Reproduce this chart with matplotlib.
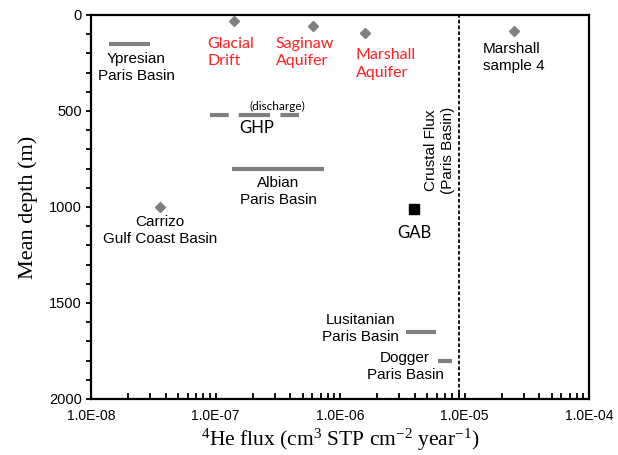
import numpy as np
import matplotlib
matplotlib.use("Agg")
import matplotlib.pyplot as plt

plt.rcParams["mathtext.fontset"] = "custom"
plt.rcParams["mathtext.rm"] = "Liberation Serif"
plt.rcParams["mathtext.it"] = "Liberation Serif:italic"

SANS = "Liberation Sans"
CAL = "Lato"
SERIF = "Liberation Serif"
GREY = "#808080"
RED = "#ff2020"

# Single-site helium flux estimates (diamonds)
point_names = ["Glacial Drift", "Saginaw Aquifer", "Marshall Aquifer",
               "Marshall sample 4", "Carrizo"]
point_flux = [1.42e-7, 6.1e-7, 1.6e-6, 2.5e-5, 3.55e-8]
point_depth = [30, 55, 95, 85, 1000]

# Flux ranges for aquifers (horizontal bars)
range_names = ["Ypresian", "Albian", "Lusitanian", "Dogger"]
range_lo = [1.4e-8, 1.36e-7, 3.4e-6, 6.1e-6]
range_hi = [3.0e-8, 7.4e-7, 5.9e-6, 8.0e-6]
range_depth = [150, 800, 1650, 1800]

# Great Hungarian Plain discharge range (dashed bar)
ghp_lo, ghp_hi, ghp_depth = 9.1e-8, 4.7e-7, 520

# Great Artesian Basin
gab_flux, gab_depth = 3.95e-6, 1010

# Crustal flux of the Paris Basin
crustal_flux = 9.0e-6

x_ticks = [1e-8, 1e-7, 1e-6, 1e-5, 1e-4]
x_tick_labels = ["1.0E-08", "1.0E-07", "1.0E-06", "1.0E-05", "1.0E-04"]
y_ticks = [0, 500, 1000, 1500, 2000]

fig = plt.figure(figsize=(6.18, 4.55), dpi=100)
ax = fig.add_axes([91 / 618, 1 - 399 / 455, 498 / 618, 384 / 455])

ax.set_xscale("log")
ax.set_xlim(1e-8, 1e-4)
ax.set_ylim(2000, 0)

# bars
for lo, hi, d in zip(range_lo, range_hi, range_depth):
    ax.plot([lo, hi], [d, d], color=GREY, lw=3.0, solid_capstyle="butt")
ax.plot([ghp_lo, ghp_hi], [ghp_depth, ghp_depth], color=GREY, lw=3.0,
        dash_capstyle="butt", linestyle=(0, (4.5, 2.4, 7.5, 2.5, 4.5, 10)))

# points
ax.plot(point_flux, point_depth, linestyle="none", marker="D",
        markersize=5.5, color=GREY)
ax.plot([gab_flux], [gab_depth], linestyle="none", marker="s",
        markersize=7, color="black")

ax.axvline(crustal_flux, color="black", lw=1.3, linestyle=(0, (2, 1.2)))

# labels
def label(x, y, s, color="black", family=SANS, size=11, ha="center", **kw):
    ax.text(x, y, s, color=color, family=family, fontsize=size, ha=ha,
            va="center", linespacing=1.28, **kw)

label(2.30e-8, 273, "Ypresian\nParis Basin")
label(8.55e-8, 193, "Glacial\nDrift", color=RED, family=CAL, size=11.5, ha="left")
label(3.06e-7, 193, "Saginaw\nAquifer", color=RED, family=CAL, size=11.5, ha="left")
label(1.34e-6, 255, "Marshall\nAquifer", color=RED, family=CAL, size=11.5, ha="left")
label(1.41e-5, 221, "Marshall\nsample 4", ha="left")
label(1.89e-7, 474, "(discharge)", family=CAL, size=8.5, ha="left")
label(1.54e-7, 589, "GHP", family=CAL, size=12, ha="left")
label(3.18e-7, 919, "Albian\nParis Basin")
label(3.58e-8, 1122, "Carrizo\nGulf Coast Basin")
label(6.3e-6, 703, "Crustal Flux\n(Paris Basin)", rotation=90)
label(gab_flux, 1135, "GAB", family=CAL, size=12)
label(1.45e-6, 1633, "Lusitanian\nParis Basin")
label(3.33e-6, 1831, "Dogger\nParis Basin")

# axes styling
for sp in ax.spines.values():
    sp.set_linewidth(1.6)

ax.set_xticks(x_ticks)
ax.set_xticklabels(x_tick_labels, family=SANS, fontsize=10)
ax.xaxis.set_minor_locator(matplotlib.ticker.LogLocator(base=10, subs=np.arange(2, 10)))
ax.xaxis.set_minor_formatter(matplotlib.ticker.NullFormatter())
ax.set_yticks(y_ticks)
ax.set_yticklabels([str(v) for v in y_ticks], family=SANS, fontsize=10.5)
ax.yaxis.set_minor_locator(matplotlib.ticker.MultipleLocator(100))

ax.tick_params(axis="x", which="both", direction="in", top=False,
               length=4, width=1.3, pad=7)
ax.tick_params(axis="y", which="both", direction="out", right=False,
               length=3.5, width=1.3, pad=3)

ax.set_ylabel("Mean depth (m)", family=SERIF, fontsize=16, labelpad=8)
ax.set_xlabel(r"$^{4}$He flux (cm$^{3}$ STP cm$^{-2}$ year$^{-1}$)",
              family=SERIF, fontsize=15.5, labelpad=3)

fig.savefig("out.png", dpi=100)
